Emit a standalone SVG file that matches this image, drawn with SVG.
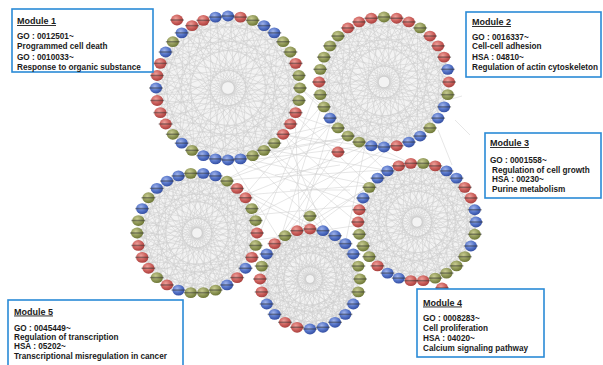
<svg xmlns="http://www.w3.org/2000/svg" xmlns:xlink="http://www.w3.org/1999/xlink" width="603" height="365" viewBox="0 0 603 365">
<style>
.w{stroke:#cdcdcd;stroke-width:.5;fill:none;vector-effect:non-scaling-stroke}
.x{stroke:#cdcdcd;stroke-width:.5;fill:none}
.box{fill:#fff;stroke:#2a8ad6;stroke-width:1.6}
.t{font-family:"Liberation Sans",Arial,sans-serif;font-weight:bold;font-size:8.2px;fill:#1a1a1a}
.h{font-size:9px;text-decoration:underline}
</style>
<defs>
<radialGradient id="gR" cx=".4" cy=".35" r=".7"><stop offset="0" stop-color="#eea09a"/><stop offset=".55" stop-color="#cc605c"/><stop offset="1" stop-color="#a43c3a"/></radialGradient>
<radialGradient id="gB" cx=".4" cy=".35" r=".7"><stop offset="0" stop-color="#a0b3ea"/><stop offset=".55" stop-color="#5574c8"/><stop offset="1" stop-color="#30499c"/></radialGradient>
<radialGradient id="gO" cx=".4" cy=".35" r=".7"><stop offset="0" stop-color="#c9cc92"/><stop offset=".55" stop-color="#929a5a"/><stop offset="1" stop-color="#687230"/></radialGradient>
<g id="R"><ellipse rx="6.1" ry="5.4" fill="url(#gR)"/><line x1="-7" x2="7" stroke="#2e2e2e" stroke-width="1.5" opacity=".45"/></g>
<g id="B"><ellipse rx="6.1" ry="5.4" fill="url(#gB)"/><line x1="-7" x2="7" stroke="#2e2e2e" stroke-width="1.5" opacity=".45"/></g>
<g id="O"><ellipse rx="6.1" ry="5.4" fill="url(#gO)"/><line x1="-7" x2="7" stroke="#2e2e2e" stroke-width="1.5" opacity=".45"/></g>
<g id="ch"><path class="w" d="M100 0L42.3 90.6M100 0L-17.4 98.5M100 0L-46.9 88.3M100 0L-88.3 46.9M100 0L-98.5 17.4"/></g>
<g id="web">
<use href="#ch"/><use href="#ch" transform="rotate(13)"/><use href="#ch" transform="rotate(29)"/><use href="#ch" transform="rotate(41)"/><use href="#ch" transform="rotate(58)"/><use href="#ch" transform="rotate(70)"/><use href="#ch" transform="rotate(86)"/><use href="#ch" transform="rotate(99)"/><use href="#ch" transform="rotate(113)"/><use href="#ch" transform="rotate(127)"/><use href="#ch" transform="rotate(142)"/><use href="#ch" transform="rotate(155)"/><use href="#ch" transform="rotate(169)"/><use href="#ch" transform="rotate(184)"/><use href="#ch" transform="rotate(197)"/><use href="#ch" transform="rotate(212)"/><use href="#ch" transform="rotate(226)"/><use href="#ch" transform="rotate(238)"/><use href="#ch" transform="rotate(253)"/><use href="#ch" transform="rotate(267)"/><use href="#ch" transform="rotate(281)"/><use href="#ch" transform="rotate(296)"/><use href="#ch" transform="rotate(309)"/><use href="#ch" transform="rotate(323)"/><use href="#ch" transform="rotate(338)"/><use href="#ch" transform="rotate(351)"/>
</g>
</defs>
<rect width="603" height="365" fill="#fff"/>
<g id="connectors">
<g fill="#f3f3f3"><circle cx="228" cy="88" r="72"/><circle cx="384" cy="82" r="65"/><circle cx="417" cy="222" r="59"/><circle cx="197" cy="233" r="60"/><circle cx="310" cy="279" r="50"/></g>
<use href="#web" transform="translate(228 88) scale(.72) rotate(5)"/>
<use href="#web" transform="translate(384 82) scale(.65) rotate(20)"/>
<use href="#web" transform="translate(417 222) scale(.59) rotate(-7)"/>
<use href="#web" transform="translate(197 233) scale(.6) rotate(33)"/>
<use href="#web" transform="translate(310 279) scale(.5) rotate(11)"/>
<path class="x" d="M295 115L370 185M295 115L300 230M285 135L362 205M285 135L325 232M270 150L345 245M270 150L360 225M250 160L370 185M250 160L325 232M300 88L322 105M300 88L385 170M230 160L280 240M230 160L362 205M322 105L245 195M322 105L280 240M330 125L255 215M330 125L300 230M345 138L225 180M345 138L262 265M365 146L245 195M365 146L280 240M390 147L255 215M320 82L257 240M370 185L245 195M362 205L255 215M385 170L225 180M360 225L257 240M410 163L280 240M370 185L262 265M245 195L345 245M225 180L325 232M285 135L330 125M270 150L345 138M250 160L365 146M295 115L390 147M285 135L365 146M385 170L270 150M410 163L285 135M390 147L300 230M365 146L345 245M225 180L330 125M230 160L345 138M300 88L250 160M330 125L410 163M455 120L470 135M448 100L462 96M438 130L452 165M300 200L330 150M290 190L350 190M275 175L340 165"/>
</g>
<g id="module1" transform="translate(228 88)">
<use href="#O" transform="rotate(0) translate(72) rotate(0)"/>
<use href="#O" transform="rotate(10) translate(72) rotate(-10)"/>
<use href="#R" transform="rotate(20) translate(72) rotate(-20)"/>
<use href="#R" transform="rotate(30) translate(72) rotate(-30)"/>
<use href="#R" transform="rotate(40) translate(72) rotate(-40)"/>
<use href="#O" transform="rotate(50) translate(72) rotate(-50)"/>
<use href="#O" transform="rotate(60) translate(72) rotate(-60)"/>
<use href="#O" transform="rotate(70) translate(72) rotate(-70)"/>
<use href="#B" transform="rotate(80) translate(72) rotate(-80)"/>
<use href="#B" transform="rotate(90) translate(72) rotate(-90)"/>
<use href="#B" transform="rotate(100) translate(72) rotate(-100)"/>
<use href="#B" transform="rotate(110) translate(72) rotate(-110)"/>
<use href="#O" transform="rotate(120) translate(72) rotate(-120)"/>
<use href="#B" transform="rotate(130) translate(72) rotate(-130)"/>
<use href="#O" transform="rotate(140) translate(72) rotate(-140)"/>
<use href="#R" transform="rotate(150) translate(72) rotate(-150)"/>
<use href="#R" transform="rotate(160) translate(72) rotate(-160)"/>
<use href="#R" transform="rotate(170) translate(72) rotate(-170)"/>
<use href="#B" transform="rotate(180) translate(72) rotate(-180)"/>
<use href="#R" transform="rotate(190) translate(72) rotate(-190)"/>
<use href="#R" transform="rotate(200) translate(72) rotate(-200)"/>
<use href="#B" transform="rotate(210) translate(72) rotate(-210)"/>
<use href="#O" transform="rotate(220) translate(72) rotate(-220)"/>
<use href="#B" transform="rotate(230) translate(72) rotate(-230)"/>
<use href="#R" transform="rotate(240) translate(72) rotate(-240)"/>
<use href="#R" transform="rotate(250) translate(72) rotate(-250)"/>
<use href="#B" transform="rotate(260) translate(72) rotate(-260)"/>
<use href="#B" transform="rotate(270) translate(72) rotate(-270)"/>
<use href="#R" transform="rotate(280) translate(72) rotate(-280)"/>
<use href="#O" transform="rotate(290) translate(72) rotate(-290)"/>
<use href="#B" transform="rotate(300) translate(72) rotate(-300)"/>
<use href="#B" transform="rotate(310) translate(72) rotate(-310)"/>
<use href="#O" transform="rotate(320) translate(72) rotate(-320)"/>
<use href="#O" transform="rotate(330) translate(72) rotate(-330)"/>
<use href="#R" transform="rotate(340) translate(72) rotate(-340)"/>
<use href="#O" transform="rotate(350) translate(72) rotate(-350)"/>
<use href="#R" x="-51" y="-68"/>
</g>
<g id="module2" transform="translate(384 82)">
<use href="#R" transform="rotate(0) translate(65) rotate(0)"/>
<use href="#O" transform="rotate(11.25) translate(65) rotate(-11.25)"/>
<use href="#B" transform="rotate(22.5) translate(65) rotate(-22.5)"/>
<use href="#B" transform="rotate(33.75) translate(65) rotate(-33.75)"/>
<use href="#O" transform="rotate(45) translate(65) rotate(-45)"/>
<use href="#B" transform="rotate(56.25) translate(65) rotate(-56.25)"/>
<use href="#B" transform="rotate(67.5) translate(65) rotate(-67.5)"/>
<use href="#R" transform="rotate(78.75) translate(65) rotate(-78.75)"/>
<use href="#B" transform="rotate(90) translate(65) rotate(-90)"/>
<use href="#B" transform="rotate(101.25) translate(65) rotate(-101.25)"/>
<use href="#O" transform="rotate(112.5) translate(65) rotate(-112.5)"/>
<use href="#O" transform="rotate(123.75) translate(65) rotate(-123.75)"/>
<use href="#O" transform="rotate(135) translate(65) rotate(-135)"/>
<use href="#B" transform="rotate(146.25) translate(65) rotate(-146.25)"/>
<use href="#O" transform="rotate(157.5) translate(65) rotate(-157.5)"/>
<use href="#O" transform="rotate(168.75) translate(65) rotate(-168.75)"/>
<use href="#R" transform="rotate(180) translate(65) rotate(-180)"/>
<use href="#O" transform="rotate(191.25) translate(65) rotate(-191.25)"/>
<use href="#O" transform="rotate(202.5) translate(65) rotate(-202.5)"/>
<use href="#O" transform="rotate(213.75) translate(65) rotate(-213.75)"/>
<use href="#O" transform="rotate(225) translate(65) rotate(-225)"/>
<use href="#R" transform="rotate(236.25) translate(65) rotate(-236.25)"/>
<use href="#R" transform="rotate(247.5) translate(65) rotate(-247.5)"/>
<use href="#R" transform="rotate(258.75) translate(65) rotate(-258.75)"/>
<use href="#O" transform="rotate(270) translate(65) rotate(-270)"/>
<use href="#R" transform="rotate(281.25) translate(65) rotate(-281.25)"/>
<use href="#R" transform="rotate(292.5) translate(65) rotate(-292.5)"/>
<use href="#O" transform="rotate(303.75) translate(65) rotate(-303.75)"/>
<use href="#R" transform="rotate(315) translate(65) rotate(-315)"/>
<use href="#R" transform="rotate(326.25) translate(65) rotate(-326.25)"/>
<use href="#R" transform="rotate(337.5) translate(65) rotate(-337.5)"/>
<use href="#B" transform="rotate(348.75) translate(65) rotate(-348.75)"/>
<use href="#R" x="-46" y="70"/>
</g>
<g id="module3" transform="translate(417 222)">
<use href="#B" transform="rotate(0) translate(59) rotate(0)"/>
<use href="#O" transform="rotate(12) translate(59) rotate(-12)"/>
<use href="#B" transform="rotate(24) translate(59) rotate(-24)"/>
<use href="#O" transform="rotate(36) translate(59) rotate(-36)"/>
<use href="#O" transform="rotate(48) translate(59) rotate(-48)"/>
<use href="#O" transform="rotate(60) translate(59) rotate(-60)"/>
<use href="#O" transform="rotate(72) translate(59) rotate(-72)"/>
<use href="#R" transform="rotate(84) translate(59) rotate(-84)"/>
<use href="#R" transform="rotate(96) translate(59) rotate(-96)"/>
<use href="#B" transform="rotate(108) translate(59) rotate(-108)"/>
<use href="#B" transform="rotate(120) translate(59) rotate(-120)"/>
<use href="#R" transform="rotate(132) translate(59) rotate(-132)"/>
<use href="#O" transform="rotate(144) translate(59) rotate(-144)"/>
<use href="#O" transform="rotate(156) translate(59) rotate(-156)"/>
<use href="#O" transform="rotate(168) translate(59) rotate(-168)"/>
<use href="#R" transform="rotate(180) translate(59) rotate(-180)"/>
<use href="#R" transform="rotate(192) translate(59) rotate(-192)"/>
<use href="#B" transform="rotate(204) translate(59) rotate(-204)"/>
<use href="#O" transform="rotate(216) translate(59) rotate(-216)"/>
<use href="#B" transform="rotate(228) translate(59) rotate(-228)"/>
<use href="#B" transform="rotate(240) translate(59) rotate(-240)"/>
<use href="#R" transform="rotate(252) translate(59) rotate(-252)"/>
<use href="#R" transform="rotate(264) translate(59) rotate(-264)"/>
<use href="#O" transform="rotate(276) translate(59) rotate(-276)"/>
<use href="#R" transform="rotate(288) translate(59) rotate(-288)"/>
<use href="#B" transform="rotate(300) translate(59) rotate(-300)"/>
<use href="#B" transform="rotate(312) translate(59) rotate(-312)"/>
<use href="#R" transform="rotate(324) translate(59) rotate(-324)"/>
<use href="#R" transform="rotate(336) translate(59) rotate(-336)"/>
<use href="#B" transform="rotate(348) translate(59) rotate(-348)"/>
<use href="#R" x="25" y="66"/>
</g>
<g id="module5" transform="translate(197 233)">
<use href="#R" transform="rotate(0) translate(60) rotate(0)"/>
<use href="#O" transform="rotate(12) translate(60) rotate(-12)"/>
<use href="#R" transform="rotate(24) translate(60) rotate(-24)"/>
<use href="#B" transform="rotate(36) translate(60) rotate(-36)"/>
<use href="#R" transform="rotate(48) translate(60) rotate(-48)"/>
<use href="#B" transform="rotate(60) translate(60) rotate(-60)"/>
<use href="#O" transform="rotate(72) translate(60) rotate(-72)"/>
<use href="#O" transform="rotate(84) translate(60) rotate(-84)"/>
<use href="#O" transform="rotate(96) translate(60) rotate(-96)"/>
<use href="#B" transform="rotate(108) translate(60) rotate(-108)"/>
<use href="#R" transform="rotate(120) translate(60) rotate(-120)"/>
<use href="#O" transform="rotate(132) translate(60) rotate(-132)"/>
<use href="#R" transform="rotate(144) translate(60) rotate(-144)"/>
<use href="#R" transform="rotate(156) translate(60) rotate(-156)"/>
<use href="#R" transform="rotate(168) translate(60) rotate(-168)"/>
<use href="#O" transform="rotate(180) translate(60) rotate(-180)"/>
<use href="#O" transform="rotate(192) translate(60) rotate(-192)"/>
<use href="#B" transform="rotate(204) translate(60) rotate(-204)"/>
<use href="#O" transform="rotate(216) translate(60) rotate(-216)"/>
<use href="#B" transform="rotate(228) translate(60) rotate(-228)"/>
<use href="#B" transform="rotate(240) translate(60) rotate(-240)"/>
<use href="#B" transform="rotate(252) translate(60) rotate(-252)"/>
<use href="#O" transform="rotate(264) translate(60) rotate(-264)"/>
<use href="#B" transform="rotate(276) translate(60) rotate(-276)"/>
<use href="#B" transform="rotate(288) translate(60) rotate(-288)"/>
<use href="#O" transform="rotate(300) translate(60) rotate(-300)"/>
<use href="#R" transform="rotate(312) translate(60) rotate(-312)"/>
<use href="#R" transform="rotate(324) translate(60) rotate(-324)"/>
<use href="#O" transform="rotate(336) translate(60) rotate(-336)"/>
<use href="#O" transform="rotate(348) translate(60) rotate(-348)"/>
</g>
<g id="module4" transform="translate(310 279)">
<use href="#O" transform="rotate(0) translate(50) rotate(0)"/>
<use href="#O" transform="rotate(15) translate(50) rotate(-15)"/>
<use href="#B" transform="rotate(30) translate(50) rotate(-30)"/>
<use href="#B" transform="rotate(45) translate(50) rotate(-45)"/>
<use href="#B" transform="rotate(60) translate(50) rotate(-60)"/>
<use href="#B" transform="rotate(75) translate(50) rotate(-75)"/>
<use href="#B" transform="rotate(90) translate(50) rotate(-90)"/>
<use href="#R" transform="rotate(105) translate(50) rotate(-105)"/>
<use href="#R" transform="rotate(120) translate(50) rotate(-120)"/>
<use href="#B" transform="rotate(135) translate(50) rotate(-135)"/>
<use href="#B" transform="rotate(150) translate(50) rotate(-150)"/>
<use href="#R" transform="rotate(165) translate(50) rotate(-165)"/>
<use href="#R" transform="rotate(180) translate(50) rotate(-180)"/>
<use href="#O" transform="rotate(195) translate(50) rotate(-195)"/>
<use href="#B" transform="rotate(210) translate(50) rotate(-210)"/>
<use href="#R" transform="rotate(225) translate(50) rotate(-225)"/>
<use href="#O" transform="rotate(240) translate(50) rotate(-240)"/>
<use href="#R" transform="rotate(255) translate(50) rotate(-255)"/>
<use href="#R" transform="rotate(270) translate(50) rotate(-270)"/>
<use href="#B" transform="rotate(285) translate(50) rotate(-285)"/>
<use href="#B" transform="rotate(300) translate(50) rotate(-300)"/>
<use href="#B" transform="rotate(315) translate(50) rotate(-315)"/>
<use href="#B" transform="rotate(330) translate(50) rotate(-330)"/>
<use href="#O" transform="rotate(345) translate(50) rotate(-345)"/>
<use href="#O" x="0" y="-63"/>
</g>
<g id="label1">
<rect class="box" x="12" y="9" width="141" height="63"/>
<text class="t h" x="17" y="24">Module 1</text>
<text class="t" x="17" y="39">GO : 0012501~</text>
<text class="t" x="17" y="49">Programmed cell death</text>
<text class="t" x="17" y="59.5">GO : 0010033~</text>
<text class="t" x="17" y="69.5">Response to organic substance</text>
</g>
<g id="label2">
<rect class="box" x="466" y="12" width="135" height="65"/>
<text class="t h" x="472" y="25">Module 2</text>
<text class="t" x="472" y="39.5">GO : 0016337~</text>
<text class="t" x="472" y="49">Cell-cell adhesion</text>
<text class="t" x="472" y="59.5">HSA : 04810~</text>
<text class="t" x="472" y="69.5">Regulation of actin cytoskeleton</text>
</g>
<g id="label3">
<rect class="box" x="485" y="133" width="116" height="65"/>
<text class="t h" x="490" y="146">Module 3</text>
<text class="t" x="490" y="162.5">GO : 0001558~</text>
<text class="t" x="492" y="172.5">Regulation of cell growth</text>
<text class="t" x="492" y="182">HSA : 00230~</text>
<text class="t" x="492" y="191.5">Purine metabolism</text>
</g>
<g id="label4">
<rect class="box" x="417" y="289" width="127" height="68"/>
<text class="t h" x="423" y="305.5">Module 4</text>
<text class="t" x="423" y="321">GO : 0008283~</text>
<text class="t" x="423" y="331">Cell proliferation</text>
<text class="t" x="423" y="341">HSA : 04020~</text>
<text class="t" x="423" y="350.5">Calcium signaling pathway</text>
</g>
<g id="label5">
<rect class="box" x="8" y="300" width="175" height="68"/>
<text class="t h" x="14" y="314.5">Module 5</text>
<text class="t" x="14" y="330.5">GO : 0045449~</text>
<text class="t" x="14" y="339.5">Regulation of transcription</text>
<text class="t" x="14" y="349">HSA : 05202~</text>
<text class="t" x="14" y="358.5">Transcriptional misregulation in cancer</text>
</g>
</svg>
